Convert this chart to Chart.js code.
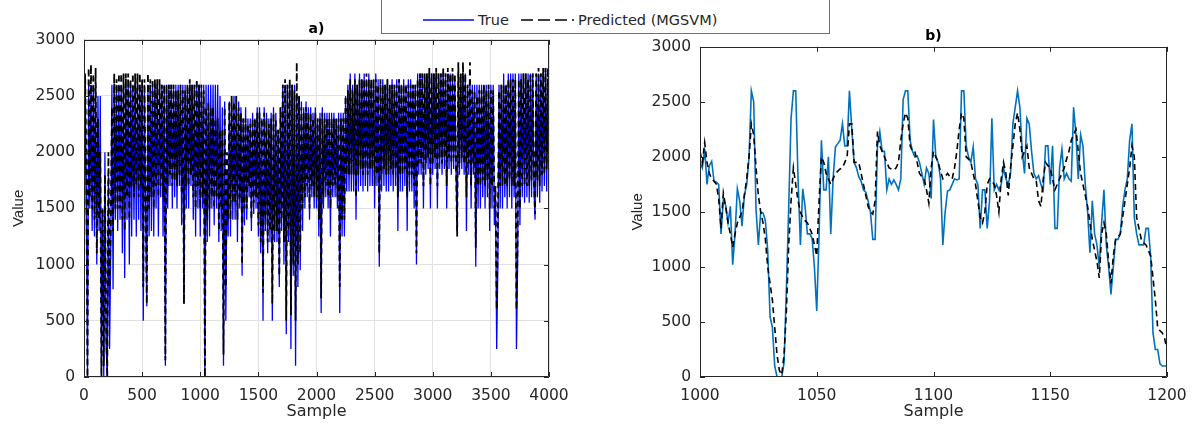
<!DOCTYPE html>
<html>
<head>
<meta charset="utf-8">
<script src="https://cdn.jsdelivr.net/npm/chart.js@4.4.0/dist/chart.umd.min.js"></script>
<style>
  body { margin: 0; background: #fff; width: 1193px; height: 425px; overflow: hidden; position: relative; }
  .panel { position: absolute; top: 0; height: 425px; }
  #legend { position: absolute; left: 381px; top: 0; width: 447px; height: 33px; border: 1px solid #707070; border-top: none; background: #fff; z-index: 5; font-family: "DejaVu Sans", sans-serif; font-size: 14.5px; color: #262626; }
  #legend span { position: absolute; top: 12px; }
  #legend svg { position: absolute; left: 0; top: 0; }
</style>
</head>
<body>
<div class="panel" style="left:0;width:590px"><canvas id="chartA" width="590" height="425"></canvas></div>
<div class="panel" style="left:600px;width:593px"><canvas id="chartB" width="593" height="425"></canvas></div>
<div id="legend">
  <svg width="447" height="33">
    <line x1="41" y1="20" x2="92" y2="20" stroke="#0000ff" stroke-width="1.5"/>
    <line x1="139" y1="20" x2="185" y2="20" stroke="#000" stroke-width="1.5" stroke-dasharray="12,5"/>
    <circle cx="191" cy="20" r="1" fill="#000"/>
  </svg>
  <span style="left:96px">True</span>
  <span style="left:196px">Predicted (MGSVM)</span>
</div>
<script>
// panel a: every 10th sample, 0..4000
const stepA = 10;
const trueA = [
  250, 2600, 1700, 0, 2600, 1500, 2600, 1300, 2600, 1250,
  2600, 1000, 2500, 1300, 2500, 30, 1500, 0, 2000, 300,
  0, 1800, 250, 1100, 2600, 780, 2600, 1400, 2600, 1300,
  2600, 1400, 2600, 1100, 2600, 880, 2600, 1400, 2600, 1000,
  2600, 1250, 2600, 1400, 2600, 1250, 2600, 1400, 2600, 1300,
  2600, 500, 2600, 1500, 630, 2600, 1250, 2600, 1300, 2600,
  1250, 2600, 1500, 2600, 1250, 2600, 1600, 2600, 1250, 2600,
  100, 2600, 1500, 2600, 1700, 2600, 1500, 2600, 1600, 2600,
  1500, 2600, 1700, 2600, 1350, 2600, 650, 2600, 1500, 2600,
  1500, 2600, 1700, 2600, 1400, 2600, 1250, 2600, 1500, 2600,
  1250, 2600, 1500, 2600, 0, 2600, 1200, 2600, 1250, 2600,
  1500, 2600, 1350, 2600, 1500, 2600, 1200, 2500, 1300, 2400,
  100, 2450, 500, 1800, 1250, 2450, 1250, 2450, 1400, 2500,
  1400, 2500, 1200, 2450, 1500, 2400, 900, 2300, 1350, 2400,
  1400, 2300, 1600, 2300, 1300, 2350, 1450, 2300, 1500, 2400,
  1250, 2400, 1100, 2300, 500, 2400, 1300, 2350, 1100, 2300,
  1200, 2350, 500, 2400, 1200, 2350, 1200, 2200, 800, 2400,
  1300, 2600, 1000, 2600, 380, 2600, 1200, 2600, 250, 2600,
  900, 2600, 100, 2500, 800, 2500, 950, 2450, 1300, 2400,
  1500, 2450, 1600, 2400, 1400, 2400, 1600, 2350, 1500, 2400,
  1500, 2300, 1250, 2350, 570, 2400, 1500, 2350, 1600, 2350,
  1500, 2350, 1250, 2350, 1600, 2350, 1600, 2300, 1500, 2350,
  570, 2350, 1250, 2350, 1250, 2500, 1650, 2600, 1650, 2700,
  1650, 2600, 1650, 2700, 1400, 2600, 1650, 2700, 1700, 2650,
  1650, 2700, 1700, 2650, 1650, 2700, 1700, 2600, 1700, 2650,
  1500, 2700, 1700, 2650, 980, 2600, 1650, 2650, 1700, 2600,
  1650, 2650, 1650, 2600, 1700, 2650, 1650, 2600, 1700, 2650,
  1300, 2650, 1650, 2600, 1650, 2650, 1700, 2600, 1300, 2650,
  1650, 2650, 1650, 2600, 1500, 2600, 1000, 2700, 1800, 2700,
  1800, 2700, 1500, 2700, 1800, 2700, 1850, 2700, 1500, 2700,
  1800, 2700, 1850, 2700, 1500, 2700, 1850, 2700, 1800, 2700,
  1850, 2700, 1500, 2700, 1850, 2700, 1800, 2700, 1850, 2650,
  1850, 1300, 2700, 1800, 2700, 1850, 2700, 1800, 2700, 1300,
  2600, 1800, 2650, 1500, 2600, 1800, 2600, 980, 2600, 1500,
  2600, 1500, 2600, 1600, 2600, 1500, 2600, 1600, 2600, 1300,
  2600, 1500, 2600, 1350, 1600, 250, 1000, 2600, 1500, 2600,
  1500, 2700, 1600, 2600, 1500, 2700, 1600, 2700, 1500, 2700,
  1600, 2700, 250, 1000, 2700, 1350, 2700, 1600, 2700, 1550,
  2700, 1600, 2700, 1550, 2700, 1600, 2700, 1700, 1400, 2700,
  1600, 2700, 1550, 2700, 1650, 2700, 1700, 2750, 1650, 2600,
  1600
];
const predA = [
  1500, 2700, 1900, 0, 2750, 1600, 2780, 1500, 2700, 1400,
  2750, 1100, 2300, 1400, 2000, 0, 1500, 100, 1800, 500,
  0, 2000, 800, 1300, 2400, 1300, 2700, 1500, 2650, 1500,
  2700, 1500, 2700, 1400, 2700, 1300, 2700, 1600, 2700, 1400,
  2650, 1700, 2700, 1600, 2700, 1700, 2700, 1600, 2700, 1700,
  2650, 800, 2650, 1600, 650, 2700, 1500, 2650, 1600, 2650,
  1500, 2650, 1700, 2650, 1600, 2650, 1700, 2600, 1600, 2600,
  150, 2600, 1700, 2600, 1800, 2600, 1700, 2600, 1750, 2550,
  1700, 2550, 1800, 2600, 1650, 2550, 650, 2550, 1700, 2600,
  1700, 2650, 1800, 2600, 1600, 2600, 1500, 2650, 1700, 2600,
  1500, 2600, 1600, 2550, 0, 2400, 1400, 2450, 1500, 2400,
  1600, 2400, 1500, 2300, 1600, 2300, 1300, 2200, 1500, 2200,
  200, 2400, 800, 2000, 1400, 2450, 1400, 2500, 1550, 2450,
  1550, 2500, 1400, 2400, 1600, 2350, 1000, 2300, 1500, 2300,
  1500, 2250, 1700, 2250, 1400, 2300, 1550, 2300, 1600, 2350,
  1350, 2350, 1200, 2300, 750, 2350, 1400, 2300, 1200, 2250,
  1300, 2300, 650, 2350, 1300, 2300, 1300, 2200, 900, 2400,
  1400, 2600, 1200, 2650, 500, 2600, 1300, 2650, 550, 2600,
  1000, 2550, 500, 2800, 1000, 2500, 1100, 2400, 1500, 2350,
  1600, 2400, 1700, 2350, 1500, 2350, 1700, 2300, 1600, 2350,
  1600, 2300, 1400, 2300, 700, 2350, 1600, 2300, 1700, 2300,
  1600, 2300, 1500, 2300, 1700, 2300, 1700, 2300, 1600, 2300,
  800, 2300, 1400, 2300, 1400, 2500, 1800, 2550, 1800, 2650,
  1800, 2550, 1800, 2650, 1600, 2600, 1800, 2650, 1850, 2650,
  1800, 2650, 1850, 2700, 1800, 2650, 1850, 2650, 1850, 2650,
  1700, 2650, 1800, 2600, 1100, 2650, 1800, 2600, 1850, 2600,
  1800, 2650, 1800, 2600, 1850, 2600, 1800, 2600, 1850, 2600,
  1600, 2650, 1800, 2600, 1800, 2600, 1850, 2600, 1600, 2600,
  1800, 2600, 1800, 2600, 1700, 2600, 1100, 2650, 1900, 2700,
  1900, 2700, 1700, 2700, 1900, 2700, 1950, 2750, 1700, 2700,
  1900, 2700, 1950, 2750, 1700, 2700, 1950, 2700, 1900, 2750,
  1950, 2700, 1700, 2750, 1950, 2700, 1900, 2750, 1950, 2700,
  1900, 1250, 2800, 1900, 2700, 1950, 2800, 1900, 2700, 1600,
  2600, 1900, 2800, 1700, 2550, 1900, 2550, 1150, 2500, 1700,
  2550, 1700, 2550, 1750, 2600, 1700, 2550, 1750, 2600, 1500,
  2550, 1700, 2550, 1500, 1700, 600, 1300, 2550, 1700, 2600,
  1700, 2600, 1700, 2600, 1700, 2650, 1750, 2650, 1700, 2650,
  1700, 2650, 600, 1200, 2650, 1500, 2650, 1700, 2700, 1700,
  2700, 1700, 2650, 1700, 2700, 1750, 2700, 1800, 1450, 2700,
  1750, 2750, 1700, 2700, 1800, 2750, 1800, 2750, 1850, 2750,
  1900
];

// panel b: samples 1000..1200
const startB = 1000;
const trueB = [
  1950, 1900, 2070, 1750, 1920, 1960, 1780, 1770, 1750, 1300,
  1610, 1560, 1400, 1550, 1020, 1300, 1710, 1600, 1370, 1650,
  1750, 2000, 2600, 2500, 1520, 1200, 1500, 1490, 1420, 1150,
  550, 450, 100, 0, 0, 0, 130, 800, 1550, 2350,
  2600, 2600, 1790, 1200, 1710, 1550, 1300, 1300, 1260, 1000,
  600, 1300, 2150, 1700, 1700, 2000, 1300, 1800, 2090, 2120,
  2150, 2300, 2100, 2100, 2600, 2250, 1950, 1900, 1820, 1780,
  1700, 1680, 1600, 1500, 1250, 1250, 2100, 2230, 2050, 2050,
  1700, 1800, 1750, 1790, 1750, 1700, 1800, 2520, 2600, 2600,
  2150, 2050, 2000, 2010, 1950, 1850, 1750, 1900, 1850, 1620,
  2340, 2000, 1950, 1800, 1200, 1500, 1690, 1700, 1750, 1800,
  1790, 1800, 2600, 2600, 2100, 2000, 1950, 2090, 1800, 1750,
  1350, 1700, 1700, 1350, 1600, 2350, 1700, 1750, 1700, 1750,
  1900, 1800, 1750, 1850, 2300, 2450, 2600, 2450, 2050, 1850,
  2350, 2300, 2050, 1850, 1800, 1830, 1750, 1700, 2100, 2100,
  1750, 2100, 1350, 1350, 1900, 2070, 1800, 1850, 1800, 1780,
  2450, 2200, 1800, 2200, 2100, 1750, 1500, 1130, 1600, 1300,
  1200, 1000, 1400, 1700, 1200, 1000, 750, 1000, 1250, 1250,
  1300, 1550, 1700, 1800, 2150, 2300, 1450, 1300, 1200, 1200,
  1200, 1350, 1350, 1100, 400, 250, 250, 120, 100, 100,
  100
];
const predB = [
  2050, 1950, 2130, 1950, 1850, 1800, 1780, 1750, 1620, 1350,
  1670, 1550, 1400, 1300, 1180, 1300, 1400, 1450, 1500, 1650,
  1800, 2000, 2300, 2200, 1900, 1650, 1500, 1400, 1250, 1000,
  850, 700, 450, 200, 60, 20, 200, 600, 1200, 1600,
  1900, 1750, 1600, 1500, 1450, 1420, 1400, 1350, 1300, 1200,
  1100, 1600, 2000, 1950, 1850, 1800, 1750, 1800, 1850, 1870,
  1890, 1900, 1950, 2000, 2300, 2300, 1950, 1950, 1950, 1850,
  1750, 1650, 1550, 1500, 1480, 1600, 2230, 2100, 2050, 2000,
  1950, 1900, 1890, 1880, 1900, 1950, 2150, 2300, 2400, 2350,
  2100, 2050, 2050, 1950, 1850, 1820, 1800, 1700, 1580, 1900,
  2050, 2000, 1950, 1870, 1800, 1820, 1850, 1820, 1800, 1900,
  2050, 2250, 2400, 2350, 2000, 1980, 1950, 1850, 1750, 1600,
  1450, 1400, 1500, 1750, 1800, 1780, 1750, 1650, 1500, 1800,
  1950, 1850, 1650, 1900, 2100, 2300, 2400, 2250, 2000, 2050,
  2100, 1900, 1850, 1800, 1780, 1600, 1550, 1800, 1950, 1920,
  1900, 1800, 1700, 1750, 1800, 1850, 1900, 1980, 2050, 2150,
  2200, 2250, 2050, 1850, 1750, 1650, 1550, 1400, 1250, 1150,
  1050, 900, 1300, 1400, 1300, 1050, 850, 1100, 1250, 1270,
  1300, 1450, 1600, 1750, 1900, 2100, 2000, 1450, 1350, 1250,
  1220, 1200, 1150, 1100, 900, 700, 450, 420, 400, 350,
  250
];

// tick labels
const xTicksA = [0, 500, 1000, 1500, 2000, 2500, 3000, 3500, 4000];
const xTicksB = [1000, 1050, 1100, 1150, 1200];
const yTicks = [0, 500, 1000, 1500, 2000, 2500, 3000];

const axisColor = '#262626';
const tickFont = { family: 'DejaVu Sans', size: 15.5 };

// box round the axes with inward ticks, like matlab
const frame = {
  id: 'frame',
  afterDatasetsDraw(chart) {
    const { ctx, chartArea: a, scales: { x, y } } = chart;
    ctx.save();
    ctx.strokeStyle = axisColor;
    ctx.lineWidth = 1;
    ctx.beginPath();
    ctx.rect(Math.round(a.left) + 0.5, Math.round(a.top) + 0.5, Math.round(a.width) - 1, Math.round(a.height) - 1);
    x.ticks.forEach(t => {
      const px = Math.round(x.getPixelForValue(t.value)) + 0.5;
      ctx.moveTo(px, a.bottom); ctx.lineTo(px, a.bottom - 5);
      ctx.moveTo(px, a.top); ctx.lineTo(px, a.top + 5);
    });
    y.ticks.forEach(t => {
      const py = Math.round(y.getPixelForValue(t.value)) + 0.5;
      ctx.moveTo(a.left, py); ctx.lineTo(a.left + 5, py);
      ctx.moveTo(a.right, py); ctx.lineTo(a.right - 5, py);
    });
    ctx.stroke();
    ctx.restore();
  }
};

function makeChart(id, o) {
  return new Chart(document.getElementById(id), {
    type: 'line',
    data: {
      datasets: [
        // higher order is drawn first, so the dashed prediction sits on top
        { label: 'True', data: o.trueData, borderColor: o.trueColor, borderWidth: o.trueWidth, pointRadius: 0, tension: 0, order: 2 },
        { label: 'Predicted (MGSVM)', data: o.predData, borderColor: '#000000', borderWidth: o.predWidth, borderDash: [6, 4], pointRadius: 0, tension: 0, order: 1 }
      ]
    },
    options: {
      responsive: false,
      animation: false,
      events: [],
      layout: { padding: { left: 0, right: o.padRight, top: 0, bottom: 0 } },
      plugins: {
        legend: { display: false },
        tooltip: { enabled: false },
        title: {
          display: true, text: o.title, fullSize: false, color: '#000',
          font: { family: 'DejaVu Sans', size: 14, weight: 'bold' },
          padding: { top: o.titleTop, bottom: o.titleBottom }
        }
      },
      scales: {
        x: {
          type: 'linear', min: o.xMin, max: o.xMax,
          afterBuildTicks: s => { s.ticks = o.xTicks.map(v => ({ value: v })); },
          afterFit: s => { s.height = 48; s.paddingLeft = 0; s.paddingRight = 0; },
          grid: { display: o.grid, color: '#e1e1e1', drawTicks: false },
          border: { display: false },
          ticks: { color: axisColor, font: tickFont, padding: 10, maxRotation: 0, callback: v => String(v) },
          title: { display: true, text: 'Sample', color: axisColor, font: { family: 'DejaVu Sans', size: 16 }, padding: { top: 0, bottom: 4 } }
        },
        y: {
          min: 0, max: 3000,
          afterBuildTicks: s => { s.ticks = yTicks.map(v => ({ value: v })); },
          afterFit: s => { s.width = o.yWidth; },
          grid: { display: o.grid, color: '#e1e1e1', drawTicks: false },
          border: { display: false },
          ticks: { color: axisColor, font: tickFont, padding: 9, callback: v => String(v) },
          title: { display: true, text: 'Value', color: axisColor, font: { family: 'Liberation Sans', size: 15 }, padding: { top: o.yTitlePad, bottom: 0 } }
        }
      }
    },
    plugins: [frame]
  });
}

makeChart('chartA', {
  trueData: trueA.map((v, i) => ({ x: i * stepA, y: v })),
  predData: predA.map((v, i) => ({ x: i * stepA, y: v })),
  trueColor: '#0000ff', trueWidth: 1.3, predWidth: 1.8,
  xMin: 0, xMax: 4000, xTicks: xTicksA, grid: true,
  title: 'a)', titleTop: 21, titleBottom: 2,
  yWidth: 84, padRight: 41, yTitlePad: 10
});

makeChart('chartB', {
  trueData: trueB.map((v, i) => ({ x: startB + i, y: v })),
  predData: predB.map((v, i) => ({ x: startB + i, y: v })),
  trueColor: '#0072bd', trueWidth: 1.6, predWidth: 1.6,
  xMin: 1000, xMax: 1200, xTicks: xTicksB, grid: false,
  title: 'b)', titleTop: 28, titleBottom: 2,
  yWidth: 100, padRight: 26, yTitlePad: 29
});
</script>
</body>
</html>
